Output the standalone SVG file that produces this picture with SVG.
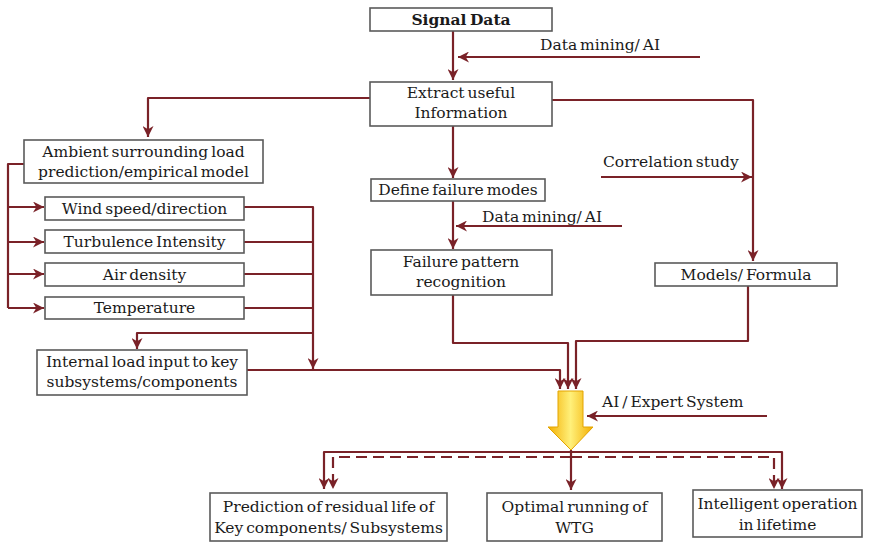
<svg xmlns="http://www.w3.org/2000/svg" width="869" height="547" viewBox="0 0 869 547">
  <style>
    .box { fill: #ffffff; stroke: #5a5a5a; stroke-width: 1.6; }
    .t { font-family: "DejaVu Serif", "Liberation Serif", serif; font-size: 15.5px; word-spacing: -2px; fill: #1a1a1a; text-anchor: middle; }
    .l { font-family: "DejaVu Serif", "Liberation Serif", serif; font-size: 15.5px; word-spacing: -2px; fill: #1a1a1a; }
    .c { fill: none; stroke: #7a2228; stroke-width: 2.2; stroke-linejoin: round; }
    .a { marker-end: url(#head); }
    .d { stroke-dasharray: 11 6; }
  </style>
  <defs>
    <marker id="head" viewBox="0 0 10 10" refX="10" refY="5" markerWidth="11" markerHeight="11" markerUnits="userSpaceOnUse" orient="auto">
      <path d="M0,0 L10,5 L0,10 L3,5 Z" fill="#7a2228"/>
    </marker>
    <linearGradient id="gold" x1="0" y1="0" x2="1" y2="0">
      <stop offset="0" stop-color="#f3ae00"/>
      <stop offset="0.5" stop-color="#fff07a"/>
      <stop offset="1" stop-color="#f3ae00"/>
    </linearGradient>
  </defs>

  <!-- connectors -->
  <g id="connectors">
    <path class="c a" d="M453,31 V80"/>
    <path class="c a" d="M700,57 H458"/>
    <path class="c a" d="M370,98 H148 V137"/>
    <path class="c a" d="M552,100 H753 V261"/>
    <path class="c a" d="M601,177 H752"/>
    <path class="c a" d="M453,126 V178"/>
    <path class="c a" d="M453,201 V249"/>
    <path class="c a" d="M622,226 H456"/>
    <!-- ambient fan-out -->
    <path class="c" d="M24,164 H8 V308"/>
    <path class="c a" d="M8,207 H44"/>
    <path class="c a" d="M8,242 H44"/>
    <path class="c a" d="M8,274 H44"/>
    <path class="c a" d="M8,308 H44"/>
    <!-- parameter collector -->
    <path class="c a" d="M244,207 H313 V369"/>
    <path class="c" d="M244,242 H313"/>
    <path class="c" d="M244,274 H313"/>
    <path class="c" d="M244,308 H313"/>
    <path class="c a" d="M313,333 H137 V349"/>
    <!-- converging into AI / expert system -->
    <path class="c a" d="M247,370 H560 V389"/>
    <path class="c a" d="M453,295 V343 H568 V389"/>
    <path class="c a" d="M748,286 V341 H576 V389"/>
    <path class="c a" d="M767,416 H587"/>
    <!-- outputs -->
    <path class="c a" d="M571,452 H324 V489"/>
    <path class="c a" d="M571,452 H782 V489"/>
    <path class="c d a" d="M571,457 H333 V489"/>
    <path class="c d a" d="M571,457 H774 V489"/>
    <path class="c a" d="M571,450 V490"/>
  </g>

  <g id="signal-data">
    <rect class="box" x="370" y="8" width="182" height="23"/>
    <text class="t" x="461" y="25" font-weight="bold">Signal Data</text>
  </g>
  <text class="l" x="540" y="50">Data mining/ AI</text>

  <g id="extract">
    <rect class="box" x="370" y="82" width="182" height="44"/>
    <text class="t" x="461" y="98">Extract useful</text>
    <text class="t" x="461" y="118">Information</text>
  </g>

  <g id="ambient">
    <rect class="box" x="24" y="140" width="239" height="43"/>
    <text class="t" x="143.5" y="157">Ambient surrounding load</text>
    <text class="t" x="143.5" y="177">prediction/empirical model</text>
  </g>
  <g id="wind">
    <rect class="box" x="45" y="197" width="199" height="23"/>
    <text class="t" x="144.5" y="214">Wind speed/direction</text>
  </g>
  <g id="turbulence">
    <rect class="box" x="45" y="230" width="199" height="23"/>
    <text class="t" x="144.5" y="247">Turbulence Intensity</text>
  </g>
  <g id="air-density">
    <rect class="box" x="45" y="263" width="199" height="23"/>
    <text class="t" x="144.5" y="280">Air density</text>
  </g>
  <g id="temperature">
    <rect class="box" x="45" y="297" width="199" height="22"/>
    <text class="t" x="144.5" y="313">Temperature</text>
  </g>
  <g id="internal-load">
    <rect class="box" x="37" y="350" width="210" height="45"/>
    <text class="t" x="142" y="367">Internal load input to key</text>
    <text class="t" x="142" y="387">subsystems/components</text>
  </g>

  <g id="define-failure">
    <rect class="box" x="371" y="179" width="174" height="22"/>
    <text class="t" x="458" y="195">Define failure modes</text>
  </g>
  <text class="l" x="482" y="222">Data mining/ AI</text>
  <g id="failure-pattern">
    <rect class="box" x="371" y="250" width="181" height="45"/>
    <text class="t" x="461" y="267">Failure pattern</text>
    <text class="t" x="461" y="287">recognition</text>
  </g>

  <text class="l" x="603" y="167">Correlation study</text>
  <g id="models">
    <rect class="box" x="655" y="263" width="182" height="23"/>
    <text class="t" x="746" y="280">Models/ Formula</text>
  </g>

  <g id="expert-system">
    <path d="M558,391 H583 V427 H593 L571,450 L548,427 H558 Z" fill="url(#gold)" stroke="#e3a400" stroke-width="1"/>
  </g>
  <text class="l" x="602" y="407">AI / Expert System</text>

  <g id="residual-life">
    <rect class="box" x="210" y="493" width="237" height="48"/>
    <text class="t" x="328.5" y="512">Prediction of residual life of</text>
    <text class="t" x="328.5" y="533">Key components/ Subsystems</text>
  </g>
  <g id="optimal-running">
    <rect class="box" x="487" y="493" width="175" height="48"/>
    <text class="t" x="574.5" y="512">Optimal running of</text>
    <text class="t" x="574.5" y="533">WTG</text>
  </g>
  <g id="intelligent-operation">
    <rect class="box" x="693" y="490" width="169" height="47"/>
    <text class="t" x="777.5" y="509">Intelligent operation</text>
    <text class="t" x="777.5" y="530">in lifetime</text>
  </g>
</svg>
